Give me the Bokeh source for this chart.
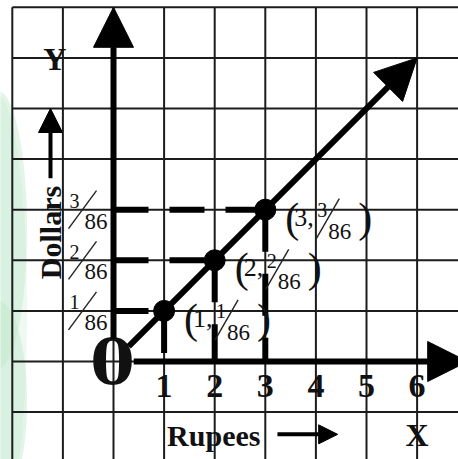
import math

from bokeh.plotting import figure
from bokeh.models import Range1d, Arrow, NormalHead
from bokeh.core.properties import value
from bokeh.embed import file_html
from bokeh.resources import INLINE

# Rupee amounts and the dollar values they convert to (numerators over 86)
rupees = [1, 2, 3]
dollar_numerators = [1, 2, 3]
dollar_denominator = 86
x_tick_values = [1, 2, 3, 4, 5, 6]
x_tick_labels = ["1", "2", "3", "4", "5", "6"]
rate_line_end = (6, 6)  # the conversion line runs on through 6 rupees

# One grid square is 1 rupee across and 1/86 dollar up
U = 50.6            # pixels per grid square
OX, OY = 113, 361   # pixel position of the origin
W, H = 458, 459
SERIF = "Liberation Serif"
INK = "#111111"
BASE_SHIFT = 0.33   # lifts the drawn baseline onto the anchor, in em

x0, x1 = -OX / U, (W - OX) / U
y0, y1 = -(H - OY) / U, OY / U

p = figure(width=W, height=H, x_range=Range1d(x0, x1), y_range=Range1d(y0, y1),
           x_axis_type=None, y_axis_type=None, toolbar_location=None,
           output_backend="svg", min_border=0, outline_line_color=None,
           background_fill_color="white", border_fill_color="white")
p.grid.visible = False

# soft green band down the left edge of the page
for cy, hh, a in [(2.6, 5.5, 0.45), (-0.8, 4.0, 0.45), (1.0, 8.5, 0.25)]:
    p.ellipse(x=[x0 - 0.05], y=[cy], width=1.15, height=hh,
              fill_color="#bfe9cb", fill_alpha=a, line_color=None)

# squared paper
gx = list(range(-2, 7))
gy = list(range(-1, 8))
p.segment(x0=gx, y0=[y0] * len(gx), x1=gx, y1=[7] * len(gx),
          line_color="#1c1c1c", line_width=2)
p.segment(x0=[-2] * len(gy), y0=gy, x1=[x1] * len(gy), y1=gy,
          line_color="#1c1c1c", line_width=2)

# dashed guides from each point to both axes
p.segment(x0=[0] * len(rupees), y0=dollar_numerators, x1=rupees, y1=dollar_numerators,
          line_color="black", line_width=6, line_dash="35 21", line_cap="butt")
p.segment(x0=rupees, y0=dollar_numerators, x1=rupees, y1=[0] * len(rupees),
          line_color="black", line_width=6, line_dash="42 22", line_cap="butt")


def arrow(xs, ys, xe, ye, lw, head):
    p.add_layout(Arrow(end=NormalHead(size=head, fill_color="black", line_color="black"),
                       x_start=xs, y_start=ys, x_end=xe, y_end=ye,
                       line_width=lw, line_color="black"))


# axes
arrow(0, 0.45, 0, 7, 6, 40)
arrow(0.4, 0, 7, 0, 6, 40)
# conversion line
arrow(0.3, 0.3, rate_line_end[0], rate_line_end[1], 6, 41)

p.scatter(x=rupees, y=dollar_numerators, size=21, color="black")


def txt(x, y, s, size, bold=False, align="left", dx=0, dy=0, angle=0.0, font=SERIF):
    shift = BASE_SHIFT * size
    p.text(x=[x], y=[y], text=[s], text_font=value(font),
           text_font_size=f"{size}px",
           text_font_style="bold" if bold else "normal",
           text_align=align, text_baseline="alphabetic",
           x_offset=dx - shift * math.sin(angle),
           y_offset=dy - shift * math.cos(angle),
           angle=angle, text_color=INK)


def slash(x, y, ax, ay, bx, by):
    # thin fraction bar given as pixel offsets from (x, y), screen y downward
    p.segment(x0=[x + ax / U], y0=[y - ay / U], x1=[x + bx / U], y1=[y - by / U],
              line_color="#222222", line_width=1.4)


# fractions along the dollar axis
for n in dollar_numerators:
    txt(0, n, str(n), 20, align="center", dx=-39, dy=-2)
    slash(0, n, -45, 19, -17, -19)
    txt(0, n, str(dollar_denominator), 23, dx=-29, dy=19)

# coordinate labels beside each point
for r, n in zip(rupees, dollar_numerators):
    L = 20
    txt(r, n, "(", 42, dx=L, dy=22)
    txt(r, n, f"{r},", 26, dx=L + 9, dy=16)
    txt(r, n, str(n), 20, dx=L + 32, dy=7)
    slash(r, n, L + 31, 29, L + 54, -11)
    txt(r, n, str(dollar_denominator), 23, dx=L + 43, dy=29)
    txt(r, n, ")", 42, dx=L + 73, dy=22)

# rupee tick numbers and the origin
for v, s in zip(x_tick_values, x_tick_labels):
    txt(v, 0, s, 34, bold=True, align="center", dy=36)
txt(0, 0, "0", 64, bold=True, align="center", dx=-1, dy=20, font="DejaVu Serif")

# axis names
txt(-1, 6, "Y", 32, bold=True, align="center", dx=-8, dy=12)
txt(6, -1, "X", 32, bold=True, align="center", dy=33)
txt(1, -1, "Rupees", 30, bold=True, dx=3, dy=33)
arrow(3.24, -1.44, 4.43, -1.44, 4, 19)
txt(-1.047, 2.55, "Dollars", 30, bold=True, align="center", angle=math.pi / 2)
arrow(-1.245, 3.62, -1.245, 5.0, 4, 24)

open("out.html", "w").write(file_html(p, INLINE))
